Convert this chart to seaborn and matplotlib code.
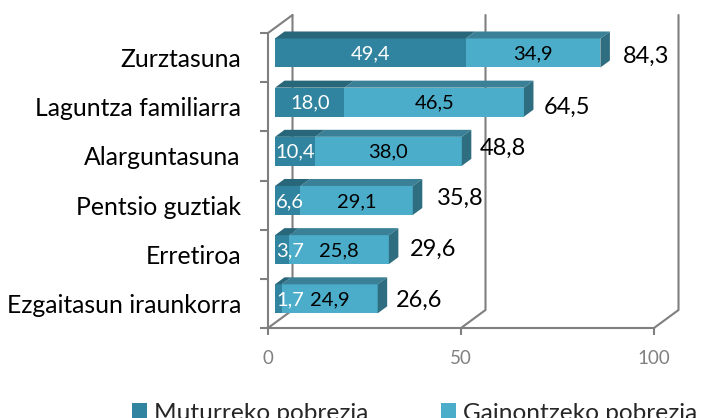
import matplotlib
matplotlib.use("Agg")
import matplotlib.pyplot as plt
import pandas as pd
import seaborn as sns
from matplotlib.lines import Line2D
from matplotlib.patches import Patch, Polygon

categories = ["Zurztasuna", "Laguntza familiarra", "Alarguntasuna",
              "Pentsio guztiak", "Erretiroa", "Ezgaitasun iraunkorra"]
extreme = [49.4, 18.0, 10.4, 6.6, 3.7, 1.7]
rest = [34.9, 46.5, 38.0, 29.1, 25.8, 24.9]
totals = [84.3, 64.5, 48.8, 35.8, 29.6, 26.6]
series_names = ["Muturreko pobrezia", "Gainontzeko pobrezia"]
x_ticks = [0, 50, 100]

# Label nudges in pixels (the source chart has hand-placed total labels)
total_nudge_x = [22, 20, 18, 24, 21, 18]
total_nudge_y = [3, 5, -3, -2, 0, 2]

W, H = 701, 418
L, R, T, B = 268, 654, 33, 328
DARK, LIGHT = "#31849f", "#4badc9"
DARK_TOP, LIGHT_TOP = "#28677a", "#3a8096"
SIDE = "#2f6e80"
WALL = "#7f7f7f"

sns.set_theme(style="white")
plt.rcParams["font.family"] = ["Lato", "DejaVu Sans"]

df = pd.DataFrame({"cat": categories, "extreme": extreme, "total": totals,
                   "stack": [a + b for a, b in zip(extreme, rest)]})

fig = plt.figure(figsize=(W / 100, H / 100), dpi=100)
ax = fig.add_axes([L / W, 1 - B / H, (R - L) / W, (B - T) / H])
ax.patch.set_alpha(0)

sns.barplot(data=df, y="cat", x="stack", color=LIGHT, saturation=1, width=0.59,
            ax=ax, zorder=3, edgecolor="none", linewidth=0)
sns.barplot(data=df, y="cat", x="extreme", color=DARK, saturation=1, width=0.59,
            ax=ax, zorder=3.1, edgecolor="none", linewidth=0)
ax.set_xlim(0, 100)
ax.set_ylim(5.5, -0.5)

ppx = (R - L) / 100          # px per x unit
ppy = (B - T) / 6            # px per category
shift_x, shift_y = 7 / ppx, -4.6 / ppy
depth_x, depth_y = 9.5 / ppx, 7 / ppy
wall_x, wall_y = 24.5 / ppx, 18 / ppy

n = len(categories)
for k, p in enumerate(ax.patches):
    p.set_x(p.get_x() + shift_x)
    p.set_y(p.get_y() + shift_y)

for i in range(n):
    light, dark = ax.patches[i], ax.patches[n + i]
    y0 = light.get_y()
    h = light.get_height()
    x0, xm = dark.get_x(), dark.get_x() + dark.get_width()
    x1 = light.get_x() + light.get_width()
    for a, b, c, z in [(xm, x1, LIGHT_TOP, 3.2), (x0, xm, DARK_TOP, 3.3)]:
        ax.add_patch(Polygon([(a, y0), (b, y0), (b + depth_x, y0 - depth_y), (a + depth_x, y0 - depth_y)],
                             closed=True, fc=c, ec="none", zorder=z, clip_on=False))
    ax.add_patch(Polygon([(x1, y0), (x1 + depth_x, y0 - depth_y),
                          (x1 + depth_x, y0 + h - depth_y), (x1, y0 + h)],
                         closed=True, fc=SIDE, ec="none", zorder=3.2, clip_on=False))
    yc = y0 + h / 2
    left_px = max(extreme[i] * ppx / 2, 15)
    ax.annotate(f"{extreme[i]:.1f}".replace(".", ","), (x0, yc), xytext=(left_px * 0.72, -0.7),
                textcoords="offset points", ha="center", va="center", color="white",
                fontsize=14.5, zorder=5)
    ax.annotate(f"{rest[i]:.1f}".replace(".", ","), ((xm + x1) / 2, yc), xytext=(0, -0.7),
                textcoords="offset points", ha="center", va="center", color="black",
                fontsize=14.5, zorder=5)
    ax.annotate(f"{totals[i]:.1f}".replace(".", ","), (x1, yc),
                xytext=(total_nudge_x[i] * 0.72, -total_nudge_y[i] * 0.72),
                textcoords="offset points", ha="left", va="center", color="black",
                fontsize=17, zorder=5)

# 3-D frame: back wall lines and floor diagonals
line_kw = dict(color=WALL, lw=1.5, zorder=1, clip_on=False, solid_capstyle="round")
for xv in x_ticks:
    ax.add_line(Line2D([xv, xv + wall_x, xv + wall_x], [5.5, 5.5 - wall_y, -0.5 - wall_y], **line_kw))
ax.add_line(Line2D([0, wall_x], [-0.5, -0.5 - wall_y], **line_kw))

for s in ("top", "right"):
    ax.spines[s].set_visible(False)
for s in ("left", "bottom"):
    ax.spines[s].set_color(WALL)
    ax.spines[s].set_linewidth(1.5)
    ax.spines[s].set_zorder(2)

ax.set_xlabel("")
ax.set_ylabel("")
ax.set_xticks(x_ticks)
ax.set_yticks(range(n))
ax.set_yticklabels(categories)
ax.set_yticks([i - 0.5 for i in range(n + 1)], minor=True)
ax.tick_params(axis="y", which="major", length=0, pad=19.5, labelsize=17.8, labelcolor="black")
ax.tick_params(axis="y", which="minor", length=6, width=1.5, color=WALL, left=True)
ax.tick_params(axis="x", which="major", length=5, width=1.5, color=WALL, bottom=True,
               labelsize=13.5, labelcolor="#808080", pad=11)

handles = [Patch(fc=DARK, ec="none", label=series_names[0]),
           Patch(fc=LIGHT, ec="none", label=series_names[1])]
fig.legend(handles=handles, ncol=2, loc="lower left", bbox_to_anchor=(132 / W, -5.5 / H),
           frameon=False, fontsize=17.6, handlelength=0.62, handleheight=0.62,
           handletextpad=0.3, columnspacing=2.95, borderpad=0, borderaxespad=0)

fig.savefig("out.png", dpi=100)
